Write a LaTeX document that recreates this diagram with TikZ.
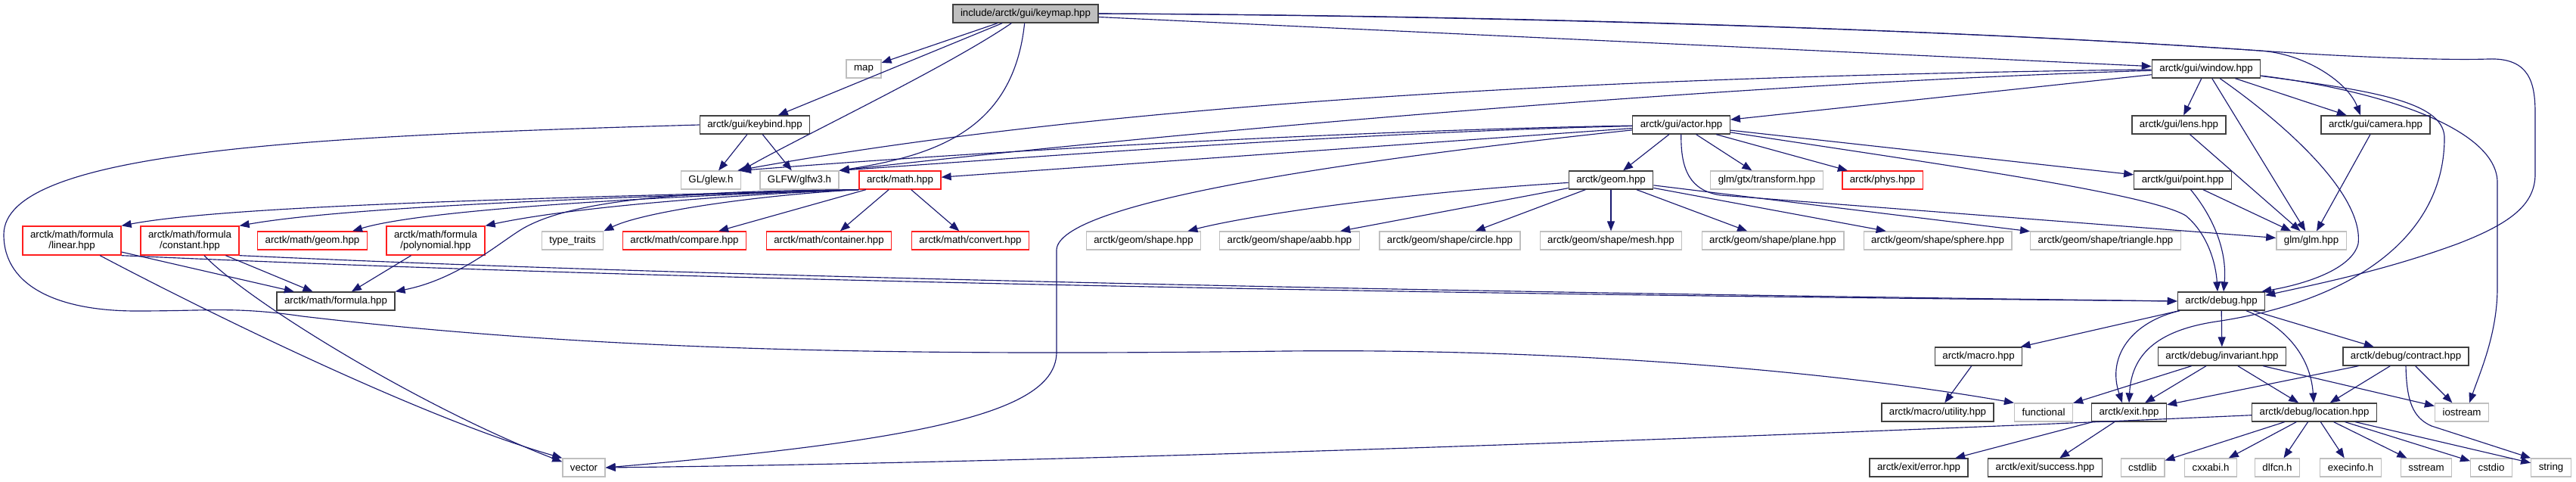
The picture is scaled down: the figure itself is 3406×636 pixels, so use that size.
\documentclass[tikz,border=0pt]{standalone}
\usepackage{fontspec}
\setmainfont{Liberation Sans}
\usetikzlibrary{arrows.meta}
\definecolor{edgec}{RGB}{25,25,112}
\definecolor{dkb}{RGB}{64,64,64}
\definecolor{ltb}{RGB}{191,191,191}
\definecolor{redb}{RGB}{255,30,30}
\definecolor{rootf}{RGB}{191,191,191}
\newcommand\nfont{\fontsize{7.56pt}{7.9pt}\selectfont}
\begin{document}
\begin{tikzpicture}[x=0.02cm,y=-0.02cm,
  box/.style={rectangle, draw=dkb, fill=white, line width=0.75pt, minimum height=0.48cm, inner xsep=0.2cm, inner ysep=0pt, font=\nfont},
  doc/.style={box},
  extn/.style={box, draw=ltb},
  trunc/.style={box, draw=redb},
  rootn/.style={box, fill=rootf, draw=dkb},
  twol/.style={minimum height=0.76cm, align=center},
  dep/.style={draw=edgec, line width=0.65pt, -{Triangle[length=0.26cm,width=0.2cm]}}]
\useasboundingbox (0,0) rectangle (3406,636);
% nodes
\node[rootn] (keymap) at (1356,18) {include/arctk/gui/keymap.hpp};
\node[extn] (mapn) at (1142,91) {map};
\node[doc] (window) at (2917,91) {arctk/gui/window.hpp};
\node[doc] (keybind) at (998,165) {arctk/gui/keybind.hpp};
\node[doc] (actor) at (2223,165) {arctk/gui/actor.hpp};
\node[doc] (lens) at (2881,165) {arctk/gui/lens.hpp};
\node[doc] (camera) at (3141,165) {arctk/gui/camera.hpp};
\node[extn] (glew) at (940,238) {GL/glew.h};
\node[extn] (glfw) at (1057,238) {GLFW/glfw3.h};
\node[trunc] (mathh) at (1190,238) {arctk/math.hpp};
\node[doc] (geomh) at (2130,238) {arctk/geom.hpp};
\node[extn] (gtx) at (2336,238) {glm/gtx/transform.hpp};
\node[trunc] (phys) at (2489,238) {arctk/phys.hpp};
\node[doc] (point) at (2886,238) {arctk/gui/point.hpp};
\node[trunc,twol] (linear) at (95,318) {arctk/math/formula\\/linear.hpp};
\node[trunc,twol] (constant) at (251,318) {arctk/math/formula\\/constant.hpp};
\node[trunc] (mgeom) at (413,318) {arctk/math/geom.hpp};
\node[trunc,twol] (poly) at (576,318) {arctk/math/formula\\/polynomial.hpp};
\node[extn] (ttraits) at (757,318) {type\_traits};
\node[trunc] (compare) at (905,318) {arctk/math/compare.hpp};
\node[trunc] (container) at (1096,318) {arctk/math/container.hpp};
\node[trunc] (convert) at (1283,318) {arctk/math/convert.hpp};
\node[extn] (shapeh) at (1512,318) {arctk/geom/shape.hpp};
\node[extn] (aabb) at (1705,318) {arctk/geom/shape/aabb.hpp};
\node[extn] (circ) at (1917,318) {arctk/geom/shape/circle.hpp};
\node[extn] (mesh) at (2130,318) {arctk/geom/shape/mesh.hpp};
\node[extn] (plane) at (2344,318) {arctk/geom/shape/plane.hpp};
\node[extn] (sphere) at (2562,318) {arctk/geom/shape/sphere.hpp};
\node[extn] (tri) at (2784,318) {arctk/geom/shape/triangle.hpp};
\node[extn] (glmh) at (3056,318) {glm/glm.hpp};
\node[doc] (formula) at (444,398) {arctk/math/formula.hpp};
\node[doc] (debug) at (2937,398) {arctk/debug.hpp};
\node[doc] (macro) at (2616,471) {arctk/macro.hpp};
\node[doc] (invariant) at (2938,471) {arctk/debug/invariant.hpp};
\node[doc] (contract) at (3181,471) {arctk/debug/contract.hpp};
\node[doc] (utility) at (2562,545) {arctk/macro/utility.hpp};
\node[extn] (functional) at (2702,545) {functional};
\node[doc] (exith) at (2815,545) {arctk/exit.hpp};
\node[doc] (location) at (3060,545) {arctk/debug/location.hpp};
\node[extn] (iostream) at (3255,545) {iostream};
\node[extn] (vect) at (772,618) {vector};
\node[doc] (errorh) at (2537,618) {arctk/exit/error.hpp};
\node[doc] (success) at (2704,618) {arctk/exit/success.hpp};
\node[extn] (cstdlib) at (2833,618) {cstdlib};
\node[extn] (cxxabi) at (2923,618) {cxxabi.h};
\node[extn] (dlfcn) at (3011,618) {dlfcn.h};
\node[extn] (execinfo) at (3108,618) {execinfo.h};
\node[extn] (sstream) at (3208,618) {sstream};
\node[extn] (cstdio) at (3294,618) {cstdio};
\node[extn] (strg) at (3373,618) {string};
% keymap
\draw[dep] (keymap) -- (mapn);
\draw[dep] (keymap) -- (keybind);
\draw[dep] (keymap) .. controls (1250,90) and (1060,180) .. (glew.north east);
\draw[dep] (keymap) .. controls (1340,170) and (1240,205) .. (glfw.north east);
\draw[dep] (keymap) -- (window);
\draw[dep] (keymap.east) .. controls (2000,20) and (2600,40) .. (2988,67) .. controls (3050,71) and (3105,110) .. ([xshift=-0.4cm]camera.north);
\draw[dep] (keymap.east) .. controls (2000,21) and (2600,40) .. (2988,67) .. controls (3100,75) and (3230,80) .. (3290,78) .. controls (3345,76) and (3352,110) .. (3352,150) -- (3352,230) .. controls (3352,270) and (3320,295) .. (3250,322) .. controls (3160,355) and (3080,372) .. ([yshift=-0.1cm]debug.north east);
% keybind
\draw[dep] (keybind) -- (glew);
\draw[dep] (keybind) -- (glfw);
\draw[dep] (keybind.west) .. controls (400,180) and (5,200) .. (5,310) .. controls (5,380) and (80,411) .. (180,411) .. controls (280,411) and (310,405) .. (400,418) .. controls (800,465) and (1200,470) .. (1700,464) .. controls (2100,460) and (2450,495) .. (functional.north west);
% window
\draw[dep] (window) -- (actor);
\draw[dep] (window) .. controls (2200,100) and (1500,130) .. ([xshift=-0.1cm]glew.north east);
\draw[dep] (window) .. controls (2300,110) and (1600,170) .. (glfw.north east);
\draw[dep] (window) -- (lens);
\draw[dep] (window) -- (camera);
\draw[dep] (window) -- (glmh);
\draw[dep] (window) .. controls (3030,170) and (3125,260) .. (3118,322) .. controls (3110,355) and (3050,375) .. ([xshift=-0.1cm]debug.north east);
\draw[dep] (window) .. controls (3140,120) and (3235,135) .. (3232,185) .. controls (3230,320) and (3100,400) .. (2930,425) .. controls (2850,437) and (2818,470) .. (exith.north);
\draw[dep] (window) .. controls (3150,120) and (3300,170) .. (3302,240) -- (3302,380) .. controls (3302,440) and (3280,490) .. ([xshift=0.2cm]iostream.north);
% actor
\draw[dep] (actor) .. controls (1800,172) and (1300,200) .. (glew.north east);
\draw[dep] (actor) .. controls (1800,175) and (1400,205) .. (glfw.north east);
\draw[dep] (actor) -- (mathh);
\draw[dep] (actor) .. controls (1750,215) and (1400,270) .. (1397,330) -- (1397,465) .. controls (1397,540) and (1250,580) .. (vect.east);
\draw[dep] (actor) -- (geomh);
\draw[dep] (actor) -- (gtx);
\draw[dep] (actor) -- (phys);
\draw[dep] (actor) -- (point);
\draw[dep] (actor) .. controls (2222,225) and (2235,252) .. (2275,258) -- (glmh);
\draw[dep] (actor) .. controls (2550,215) and (2840,255) .. (2890,285) .. controls (2920,310) and (2930,350) .. ([xshift=-0.1cm]debug.north);
% lens, camera, point
\draw[dep] (lens) -- (glmh);
\draw[dep] (camera) -- (glmh);
\draw[dep] (point) -- (glmh);
\draw[dep] (point) .. controls (2925,285) and (2945,330) .. ([xshift=0.06cm]debug.north);
% math
\draw[dep] (mathh.south west) .. controls (700,262) and (300,272) .. (linear.north east);
\draw[dep] (mathh.south west) .. controls (750,262) and (450,275) .. (constant.north east);
\draw[dep] (mathh.south west) .. controls (800,262) and (550,280) .. ([xshift=-0.4cm]mgeom.north east);
\draw[dep] (mathh.south west) .. controls (950,258) and (750,275) .. (poly.north east);
\draw[dep] (mathh.south west) .. controls (1000,258) and (850,280) .. (ttraits.north east);
\draw[dep] (mathh) -- (compare);
\draw[dep] (mathh) -- (container);
\draw[dep] (mathh) -- (convert);
\draw[dep] (mathh.south west) .. controls (900,252) and (760,265) .. (695,300) .. controls (665,316) and (610,368) .. (formula.north east);
% formula family
\draw[dep] (linear) -- (formula);
\draw[dep] (linear) .. controls (250,400) and (550,550) .. (vect.north west);
\draw[dep] (linear.south east) .. controls (700,362) and (1500,385) .. (debug.west);
\draw[dep] (constant) -- (formula);
\draw[dep] (constant) .. controls (330,400) and (560,540) .. ([yshift=-0.1cm]vect.north west);
\draw[dep] (constant.south east) .. controls (800,360) and (1600,382) .. (debug.west);
\draw[dep] (poly) -- (formula);
% geom
\draw[dep] (geomh) .. controls (1850,255) and (1650,285) .. ([xshift=-0.36cm]shapeh.north east);
\draw[dep] (geomh) -- (aabb);
\draw[dep] (geomh) -- (circ);
\draw[dep] (geomh) -- (mesh);
\draw[dep] (geomh) -- (plane);
\draw[dep] (geomh) -- (sphere);
\draw[dep] (geomh) -- (tri);
% debug
\draw[dep] (debug) -- (macro);
\draw[dep] (debug) .. controls (2820,425) and (2785,470) .. ([xshift=-0.18cm]exith.north);
\draw[dep] (debug) -- (invariant);
\draw[dep] (debug) .. controls (3020,430) and (3055,470) .. (location);
\draw[dep] (debug) -- (contract);
\draw[dep] (macro) -- (utility);
\draw[dep] (invariant) -- (functional);
\draw[dep] (invariant) -- (exith);
\draw[dep] (invariant) -- (location);
\draw[dep] (invariant) -- (iostream);
\draw[dep] (contract) -- (exith);
\draw[dep] (contract) -- (location);
\draw[dep] (contract) -- (iostream);
\draw[dep] (contract.south) .. controls (3182,530) and (3190,552) .. (3215,563) -- (strg.north west);
% location
\draw[dep] (location) .. controls (2500,570) and (1500,610) .. (vect.east);
\draw[dep] (location) -- (cstdlib);
\draw[dep] (location) -- (cxxabi);
\draw[dep] (location) -- (dlfcn);
\draw[dep] (location) -- (execinfo);
\draw[dep] (location) -- (sstream);
\draw[dep] (location) -- (cstdio);
\draw[dep] (location) -- (strg);
% exit
\draw[dep] (exith) -- (errorh);
\draw[dep] (exith) -- (success);
\end{tikzpicture}
\end{document}
